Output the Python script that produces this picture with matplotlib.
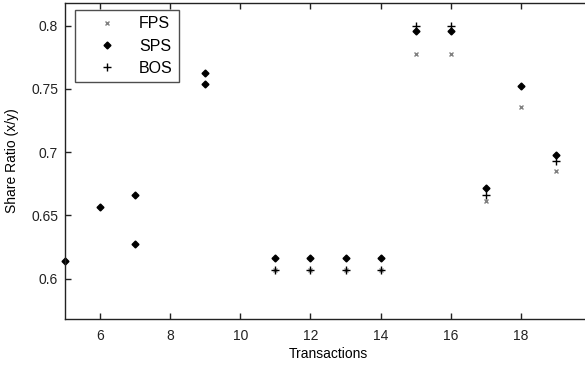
import matplotlib
matplotlib.use("Agg")
import matplotlib.pyplot as plt

plt.rcParams['font.family'] = ['Liberation Sans', 'DejaVu Sans']

sps_x = [5, 6, 7, 7, 9, 9, 11, 12, 13, 14, 15, 16, 17, 18, 19]
sps_y = [0.614, 0.657, 0.666, 0.627, 0.763, 0.754, 0.616, 0.616, 0.616, 0.616,
         0.796, 0.796, 0.672, 0.752, 0.698]
fps_x = [11, 12, 13, 14, 15, 16, 17, 18, 19]
fps_y = [0.607, 0.607, 0.607, 0.607, 0.778, 0.778, 0.661, 0.736, 0.685]
bos_x = [11, 12, 13, 14, 15, 16, 17, 19]
bos_y = [0.607, 0.607, 0.607, 0.607, 0.800, 0.800, 0.666, 0.693]

xticks = [6, 8, 10, 12, 14, 16, 18]
yticks = [0.6, 0.65, 0.7, 0.75, 0.8]
ytick_labels = ['0.6', '0.65', '0.7', '0.75', '0.8']

fig = plt.figure(figsize=(5.85, 3.65), dpi=100)
W, H = 585, 365
left, right, top, bottom = 65, 591, 3, 319
ax = fig.add_axes([left / W, 1 - bottom / H, (right - left) / W, (bottom - top) / H])

ax.plot(fps_x, fps_y, linestyle='none', marker='x', color='#808080', markersize=3.5,
        markeredgewidth=1.0, label='FPS', clip_on=False)
ax.plot(sps_x, sps_y, linestyle='none', marker='D', color='black', markersize=3.5,
        label='SPS', clip_on=False)
ax.plot(bos_x, bos_y, linestyle='none', marker='+', color='black', markersize=6,
        markeredgewidth=1.0, label='BOS', clip_on=False)

ax.set_xlim(5, 20)
ax.set_ylim(0.568, 0.818)
ax.set_xticks(xticks)
ax.set_yticks(yticks)
ax.set_yticklabels(ytick_labels)
ax.tick_params(direction='in', top=True, right=True, length=4.3, width=1,
               labelsize=10, colors='#222222')
ax.tick_params(axis='x', pad=7)
ax.tick_params(axis='y', pad=5)
for s in ax.spines.values():
    s.set_linewidth(1.0)
    s.set_color('#222222')

ax.set_xlabel('Transactions', fontsize=10, labelpad=3)
ax.set_ylabel('Share Ratio (x/y)', fontsize=10, labelpad=9)

leg = ax.legend(loc='upper left', bbox_to_anchor=((75 - left) / (right - left), 1 - (10 - top) / (bottom - top)),
                frameon=True, fancybox=False, edgecolor='#222222', fontsize=11.5,
                handlelength=3.2, handletextpad=0.4, borderpad=0.4, labelspacing=0.45,
                borderaxespad=0)
leg.get_frame().set_linewidth(1.0)

fig.savefig('out.png', dpi=100)
